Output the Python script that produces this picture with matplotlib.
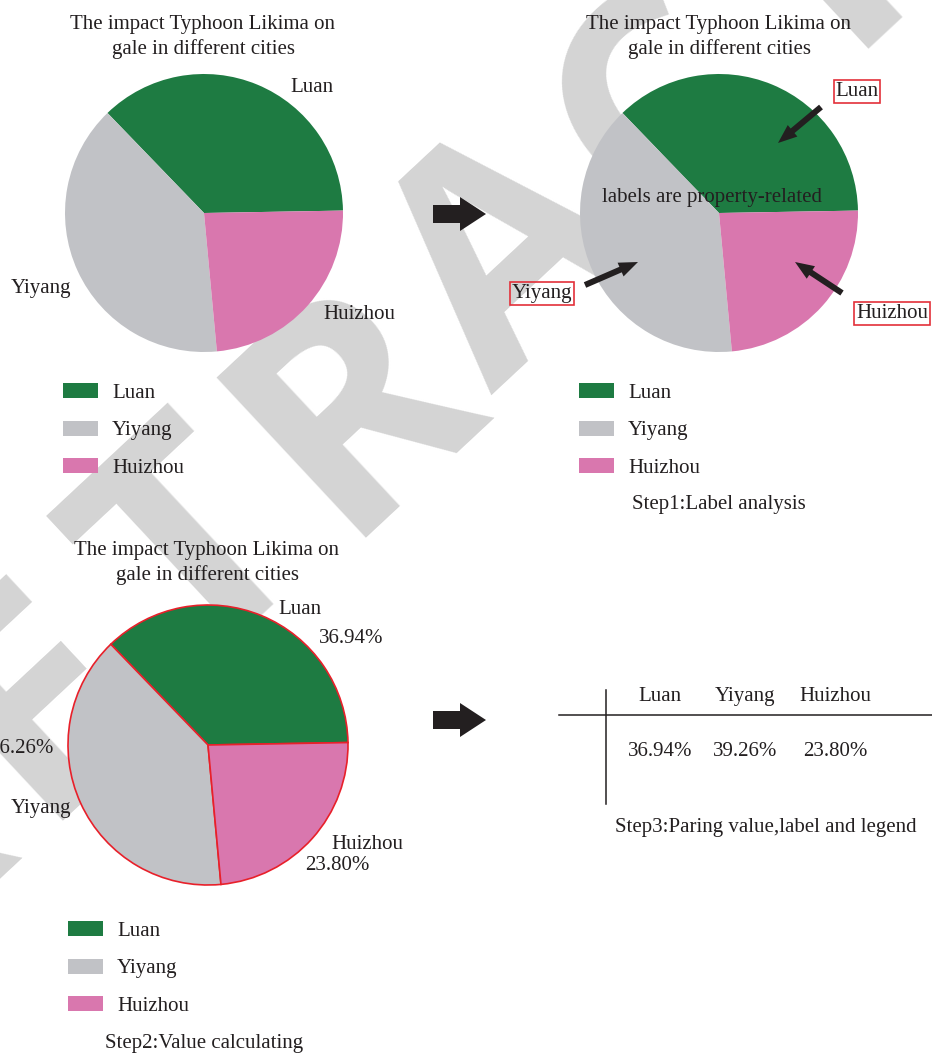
import numpy as np
import matplotlib
matplotlib.use("Agg")
import matplotlib.pyplot as plt
from matplotlib.patches import Patch, FancyArrow

# ---- data -------------------------------------------------------------
cities = ["Luan", "Yiyang", "Huizhou"]
shares = [36.94, 39.26, 23.80]
side_pct_labels = ["36.94%", "36.26%", "23.80%"]   # as printed beside the third pie
title_lines = ["The impact Typhoon Likima on", "gale in different cities"]
step_captions = ["Step1:Label analysis", "Step2:Value calculating",
                 "Step3:Paring value,label and legend"]
note_text = "labels are property-related"
watermark = "RETRACTED"

# ---- style ------------------------------------------------------------
colors = ["#1e7b42", "#c1c2c6", "#d977ae"]
ink = "#231f20"
red = "#e3303a"
W, H = 932, 1061

plt.rcParams["font.family"] = ["Liberation Serif", "DejaVu Serif"]
plt.rcParams["font.size"] = 15

fig = plt.figure(figsize=(W / 100, H / 100), dpi=100)

# background layer (watermark) in pixel coordinates
bg = fig.add_axes([0, 0, 1, 1], zorder=0)
bg.set_xlim(0, W)
bg.set_ylim(H, 0)
bg.axis("off")
wm_angle = 43
wm_step = 215          # letter pitch along the slanted baseline, px
wm_origin = (570, 322) # baseline centre of the fifth letter
ang = np.deg2rad(wm_angle)
for i, ch in enumerate(watermark):
    s = (i - 4) * wm_step
    bg.text(wm_origin[0] + s * np.cos(ang), wm_origin[1] - s * np.sin(ang), ch,
            rotation=wm_angle, rotation_mode="anchor", ha="center", va="baseline",
            fontsize=222, family="Open Sans", weight="bold", color="#d4d4d4")

# foreground annotation layer in pixel coordinates
ov = fig.add_axes([0, 0, 1, 1], zorder=3)
ov.set_xlim(0, W)
ov.set_ylim(H, 0)
ov.axis("off")
ov.patch.set_alpha(0)


def pie_axes(cx, cy, r):
    return fig.add_axes([(cx - r) / W, (H - cy - r) / H, 2 * r / W, 2 * r / H], zorder=1)


def draw_pie(cx, cy, r, edge=None):
    ax = pie_axes(cx, cy, r)
    wp = {"linewidth": 0}
    if edge:
        wp = {"edgecolor": edge, "linewidth": 1.2}
    ax.pie(shares, colors=colors, startangle=1, counterclock=True,
           radius=1, wedgeprops=wp)
    ax.set_xlim(-1, 1)
    ax.set_ylim(-1, 1)
    ax.axis("off")
    return ax


def title(cx, y0):
    for i, line in enumerate(title_lines):
        ov.text(cx, y0 + 25 * i, line, ha="center", va="baseline", color=ink)


def legend(x, y_mid):
    handles = [Patch(facecolor=c, edgecolor="none") for c in colors]
    leg = fig.legend(handles, cities, loc="center left",
                     bbox_to_anchor=(x, y_mid), bbox_transform=ov.transData,
                     frameon=False, borderpad=0, borderaxespad=0,
                     handlelength=1.68, handleheight=0.72, handletextpad=0.67,
                     labelspacing=0.86, fontsize=15)
    for t in leg.get_texts():
        t.set_color(ink)
    return leg


# ---- panel 1 ----------------------------------------------------------
draw_pie(204, 213, 139)
title(203, 29)
ov.text(312, 92, cities[0], ha="center", va="baseline", color=ink)
ov.text(41, 293, cities[1], ha="center", va="baseline", color=ink)
ov.text(359, 319, cities[2], ha="center", va="baseline", color=ink)
legend(63, 430.5)

# ---- panel 2 ----------------------------------------------------------
draw_pie(719, 213, 139)
title(719, 29)
box = dict(boxstyle="square,pad=0.08", facecolor="none", edgecolor=red, linewidth=1.2)
ov.text(857, 96, cities[0], ha="center", va="baseline", color=ink, bbox=box)
ov.text(542, 298, cities[1], ha="center", va="baseline", color=ink, bbox=box)
ov.text(892, 318, cities[2], ha="center", va="baseline", color=ink, bbox=box)
ov.text(712, 202, note_text, ha="center", va="baseline", color=ink)
for (x0, y0), (x1, y1) in [((821, 107), (778, 143)),
                           ((585, 285), (638, 262)),
                           ((842, 293), (795, 262))]:
    ov.add_patch(FancyArrow(x0, y0, x1 - x0, y1 - y0, width=6, head_width=15,
                            head_length=19, length_includes_head=True,
                            color=ink, linewidth=0))
legend(579, 430.5)
ov.text(719, 509, step_captions[0], ha="center", va="baseline", color=ink)

# ---- panel 3 ----------------------------------------------------------
draw_pie(208, 745, 140, edge="#e8202a")
title(207, 555)
ov.text(300, 614, cities[0], ha="center", va="baseline", color=ink)
ov.text(351, 643, side_pct_labels[0], ha="center", va="baseline", color=ink)
ov.text(54, 753, side_pct_labels[1], ha="right", va="baseline", color=ink)
ov.text(41, 813, cities[1], ha="center", va="baseline", color=ink)
ov.text(367, 849, cities[2], ha="center", va="baseline", color=ink)
ov.text(337, 870, side_pct_labels[2], ha="center", va="baseline", color=ink)
legend(68, 968.5)
ov.text(204, 1048, step_captions[1], ha="center", va="baseline", color=ink)

# ---- flow arrows ------------------------------------------------------
for yc in (214, 720):
    ov.add_patch(FancyArrow(433, yc, 53, 0, width=18, head_width=34,
                            head_length=26, length_includes_head=True,
                            color=ink, linewidth=0))

# ---- panel 4: pairing table --------------------------------------------
ov.plot([559, W], [715, 715], color=ink, linewidth=1.1)
ov.plot([606, 606], [690, 804], color=ink, linewidth=1.1)
col_x = [660, 745, 835]
for x, name, v in zip(col_x, cities, shares):
    ov.text(x, 701, name, ha="center", va="baseline", color=ink)
    ov.text(x, 756, f"{v:.2f}%", ha="center", va="baseline", color=ink)
ov.text(766, 832, step_captions[2], ha="center", va="baseline", color=ink)

fig.savefig("out.png", dpi=100)
